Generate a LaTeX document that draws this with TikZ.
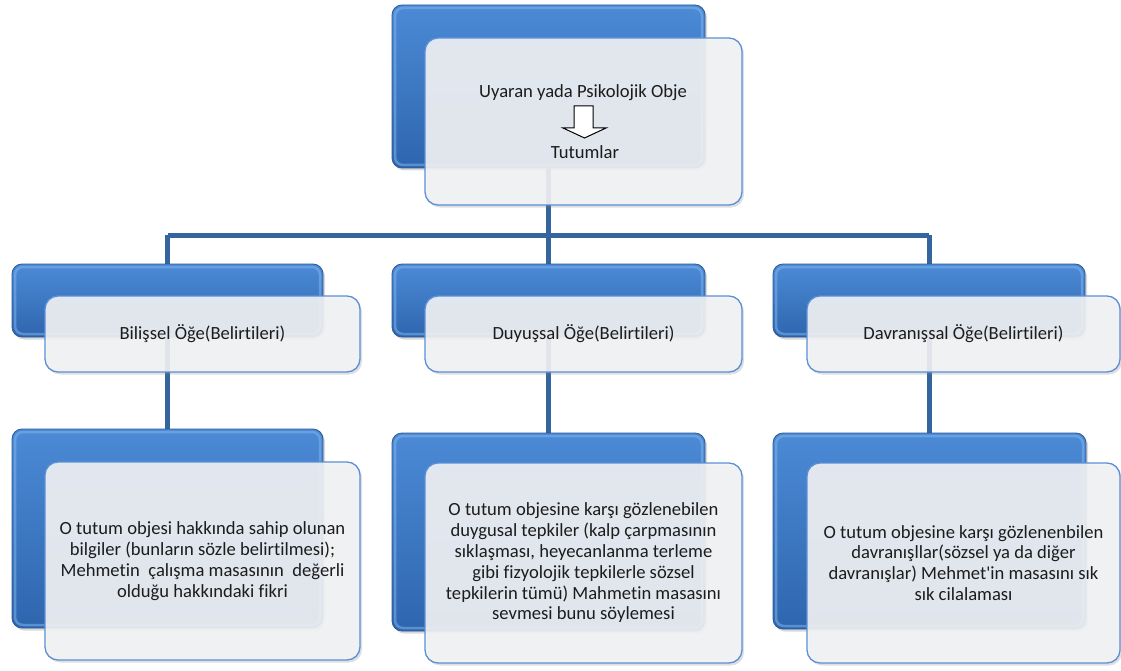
\documentclass[tikz,border=0pt]{standalone}
\usepackage{fontspec}
\setmainfont{Carlito}[Ligatures={NoCommon}]
\usetikzlibrary{shadows}
\definecolor{blueT}{HTML}{4C8AD6}
\definecolor{blueB}{HTML}{2E66AE}
\definecolor{blueL}{HTML}{7FB3EC}
\definecolor{blueD}{HTML}{2B5A96}
\definecolor{connC}{HTML}{35659F}
\definecolor{frontD}{HTML}{5C8FD6}
\definecolor{frontF}{HTML}{F2F3F5}
\definecolor{txt}{HTML}{1C1C1C}
\tikzset{
  bluebox/.style={rectangle, rounded corners=10pt, inner sep=0pt, outer sep=0pt,
    top color=blueT, bottom color=blueB, draw=blueD, line width=0.8pt,
    drop shadow={opacity=0.3, shadow xshift=2pt, shadow yshift=-2.5pt},
    path picture={\draw[blueL, line width=2.5pt, opacity=.55, rounded corners=8pt]
      ([shift={(3pt,-3pt)}]path picture bounding box.north west) rectangle
      ([shift={(-3pt,3pt)}]path picture bounding box.south east);}},
  frontbox/.style={rectangle, rounded corners=13pt, inner sep=0pt, outer sep=0pt,
    fill=frontF, fill opacity=0.9, text opacity=1, draw=frontD, line width=1.3pt,
    drop shadow={opacity=0.25, shadow xshift=2pt, shadow yshift=-2.5pt},
    text=txt, align=center, font=\fontsize{18.6}{20.8}\selectfont},
  conn/.style={draw=connC, line width=5pt},
  lbl/.style={text=txt, font=\fontsize{18.6}{20.8}\selectfont, inner sep=0pt},
  hollowarrow/.style={draw=black, fill=white, line width=1pt, line join=miter}
}
\begin{document}
\begin{tikzpicture}[x=1pt,y=-1pt]
\useasboundingbox (0,0) rectangle (1121,671);

% positions of blue boxes (needed for connectors)
\coordinate (b0c) at (548.5,86.5);
\coordinate (l2c) at (167.5,300.5);
\coordinate (m2c) at (548.5,300.5);
\coordinate (r2c) at (929,300.5);
\coordinate (hy) at (548.5,235);

% connectors (behind boxes)
\draw[conn] (b0c |- 0,168) -- (hy);
\draw[conn] (l2c |- hy) -- (r2c |- hy);
\draw[conn] (l2c |- hy) -- (l2c |- 0,430);
\draw[conn] (m2c |- hy) -- (m2c |- 0,434);
\draw[conn] (r2c |- hy) -- (r2c |- 0,434);

% top
\node[bluebox, minimum width=313pt, minimum height=163pt] (b0) at (b0c) {};
\node[frontbox, minimum width=317pt, minimum height=167pt] (f0) at (583.5,121.5) {};
\node[lbl] (t1) at (583,93) {Uyaran yada Psikolojik Obje};
\draw[hollowarrow] (574,106) -- (593,106) -- (593,128) -- (606,128) -- (584.5,138) -- (563,128) -- (574,128) -- cycle;
\node[lbl] (t2) at (585,152) {Tutumlar};

% row 2
\node[bluebox, minimum width=311pt, minimum height=73pt] (l2) at (l2c) {};
\node[frontbox, minimum width=315pt, minimum height=76pt] (lf2) at (202.5,334) {Bilişsel Öğe(Belirtileri)};
\node[bluebox, minimum width=313pt, minimum height=73pt] (m2) at (m2c) {};
\node[frontbox, minimum width=317pt, minimum height=76pt] (mf2) at (583.5,334) {Duyuşsal Öğe(Belirtileri)};
\node[bluebox, minimum width=312pt, minimum height=73pt] (r2) at (r2c) {};
\node[frontbox, minimum width=313pt, minimum height=76pt] (rf2) at (963.5,334) {Davranışsal Öğe(Belirtileri)};

% row 3
\node[bluebox, minimum width=311pt, minimum height=199pt] (l3) at (167.5,528.5) {};
\node[frontbox, minimum width=315pt, minimum height=198pt] (lf3) at (202.5,561) {O tutum objesi hakkında sahip olunan\\ bilgiler (bunların sözle belirtilmesi);\\ Mehmetin\ \ çalışma masasının\ \ değerli\\ olduğu hakkındaki fikri};
\node[bluebox, minimum width=313pt, minimum height=198pt] (m3) at (548.5,532) {};
\node[frontbox, minimum width=317pt, minimum height=200pt] (mf3) at (583.5,563) {O tutum objesine karşı gözlenebilen\\ duygusal tepkiler (kalp çarpmasının\\ sıklaşması, heyecanlanma terleme\\ gibi fizyolojik tepkilerle sözsel\\ tepkilerin tümü) Mahmetin masasını\\ sevmesi bunu söylemesi};
\node[bluebox, minimum width=313pt, minimum height=196pt] (r3) at (929.5,531) {};
\node[frontbox, minimum width=313pt, minimum height=200pt] (rf3) at (963.5,563) {O tutum objesine karşı gözlenenbilen\\ davranışllar(sözsel ya da diğer\\ davranışlar) Mehmet\textquotesingle in masasını sık\\ sık cilalaması};
\end{tikzpicture}
\end{document}
